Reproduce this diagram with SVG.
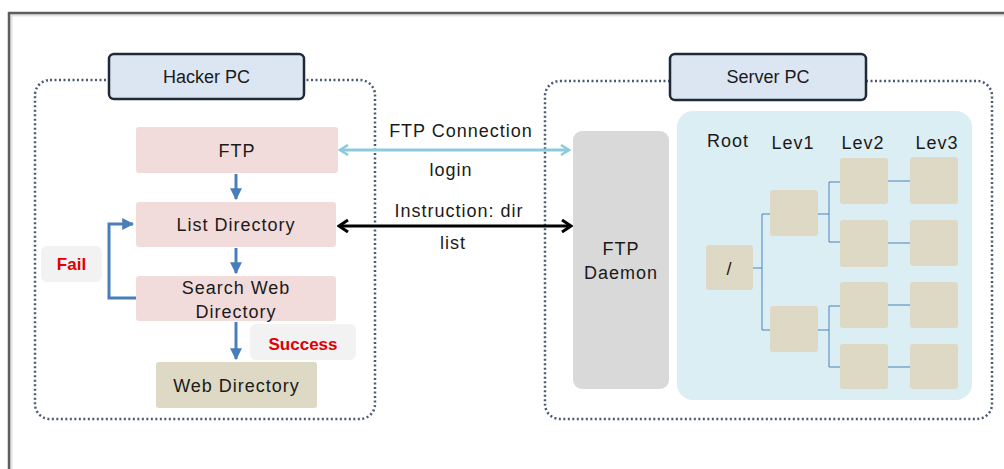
<svg xmlns="http://www.w3.org/2000/svg" width="1004" height="469" viewBox="0 0 1004 469">
<defs>
<style>
text{font-family:"Liberation Sans","Noto Sans",Arial,sans-serif;fill:#1a1a1a;text-anchor:middle}
.t18{font-size:18px;letter-spacing:1px}
.lb{font-size:18px}
.lbl{fill:#dce6f2;stroke:#1f2a38;stroke-width:2.5}
.grp{fill:none;stroke:#4a5a74;stroke-width:2.5;stroke-dasharray:2 2.5}
.pink{fill:#f2dcdb}
.tan{fill:#ddd9c4}
.flow{stroke:#4a7ebb;stroke-width:3;fill:none}
.tree{stroke:#4f81bd;stroke-width:1;fill:none}
.red{fill:#e00000;font-weight:bold;font-size:17px}
</style>
<marker id="blueHead" viewBox="0 0 10 10" refX="9" refY="5" markerWidth="4" markerHeight="4" orient="auto" markerUnits="strokeWidth">
<path d="M0,0 L10,5 L0,10 Z" fill="#4a7ebb"/>
</marker>
<marker id="cyanHead" viewBox="0 0 12 12" refX="10" refY="6" markerWidth="12" markerHeight="12" orient="auto-start-reverse" markerUnits="userSpaceOnUse">
<path d="M2,1 L10,6 L2,11" fill="none" stroke="#8ccbd9" stroke-width="2.5"/>
</marker>
<marker id="blackHead" viewBox="0 0 14 14" refX="12" refY="7" markerWidth="14" markerHeight="14" orient="auto-start-reverse" markerUnits="userSpaceOnUse">
<path d="M3,1 L12,7 L3,13" fill="none" stroke="#000" stroke-width="3"/>
</marker>
</defs>
<rect x="0" y="0" width="1004" height="469" fill="#ffffff"/>
<g id="frame">
<path d="M11,469 V15 H1004" fill="none" stroke="#e2e2e2" stroke-width="3"/>
<path d="M9,469 V13 H1004" fill="none" stroke="#5e5e5e" stroke-width="2.5"/>
</g>
<g id="hacker-group">
<rect class="grp" x="35" y="80" width="340" height="339" rx="15"/>
</g>
<g id="server-group">
<rect class="grp" x="545" y="81" width="447" height="338" rx="15"/>
</g>
<g id="hacker-label">
<rect class="lbl" x="109" y="54" width="195" height="45" rx="5"/>
<text class="lb" x="206.5" y="83">Hacker PC</text>
</g>
<g id="server-label">
<rect class="lbl" x="670" y="54" width="196" height="46" rx="5"/>
<text class="lb" x="768" y="83">Server PC</text>
</g>
<g id="ftp">
<rect class="pink" x="136" y="127" width="202" height="46" rx="3"/>
<text class="t18" x="237" y="157">FTP</text>
</g>
<g id="list-directory">
<rect class="pink" x="136" y="202" width="200" height="45" rx="3"/>
<text class="t18" x="236" y="231">List Directory</text>
</g>
<g id="search-web-directory">
<rect class="pink" x="136" y="276" width="200" height="45" rx="3"/>
<text class="t18" x="236" y="294">Search Web</text>
<text class="t18" x="236" y="318">Directory</text>
</g>
<g id="web-directory">
<rect class="tan" x="156" y="362" width="161" height="46" rx="3"/>
<text class="t18" x="236.5" y="392">Web Directory</text>
</g>
<g id="fail">
<rect x="41" y="246" width="61" height="36" rx="6" fill="#f2f2f2"/>
<text class="red" x="71.5" y="270">Fail</text>
</g>
<g id="success">
<rect x="250" y="324" width="106" height="36" rx="6" fill="#f2f2f2"/>
<text class="red" x="303" y="350">Success</text>
</g>
<g id="ftp-daemon">
<rect x="573" y="131" width="96" height="258" rx="9" fill="#d9d9d9"/>
<text class="t18" x="621" y="255">FTP</text>
<text class="t18" x="621" y="279">Daemon</text>
</g>
<g id="file-tree">
<rect x="677" y="111" width="295" height="289" rx="16" fill="#dbeef4"/>
<text class="t18" x="728" y="147">Root</text>
<text class="t18" x="793" y="149">Lev1</text>
<text class="t18" x="863" y="149">Lev2</text>
<text class="t18" x="937" y="149">Lev3</text>
<rect class="tan" x="706" y="245" width="47" height="45" rx="3"/>
<text class="t18" x="729.5" y="275">/</text>
<rect class="tan" x="770" y="190" width="48" height="46" rx="3"/>
<rect class="tan" x="770" y="306" width="48" height="46" rx="3"/>
<rect class="tan" x="840" y="158" width="48" height="46" rx="3"/>
<rect class="tan" x="840" y="220" width="48" height="47" rx="3"/>
<rect class="tan" x="840" y="282" width="48" height="46" rx="3"/>
<rect class="tan" x="840" y="344" width="48" height="45" rx="3"/>
<rect class="tan" x="910" y="157" width="48" height="47" rx="3"/>
<rect class="tan" x="910" y="220" width="48" height="46" rx="3"/>
<rect class="tan" x="910" y="282" width="48" height="46" rx="3"/>
<rect class="tan" x="910" y="344" width="48" height="45" rx="3"/>
<path class="tree" d="M753,268 H762 M762,214 V330 M762,214 H770 M762,330 H770"/>
<path class="tree" d="M818,214 H829 M829,182 V242 M829,182 H840 M829,242 H840"/>
<path class="tree" d="M818,330 H829 M829,306 V367 M829,306 H840 M829,367 H840"/>
<path class="tree" d="M888,181 H910 M888,243 H910 M888,305 H910 M888,367 H910"/>
</g>
<g id="connectors">
<path class="flow" d="M236,174 V199" marker-end="url(#blueHead)"/>
<path class="flow" d="M236,248 V273" marker-end="url(#blueHead)"/>
<path class="flow" d="M236,322 V359" marker-end="url(#blueHead)"/>
<path class="flow" d="M136,298 H109 V224 H133" marker-end="url(#blueHead)"/>
<path d="M340,150 H569" stroke="#8ccbd9" stroke-width="3" fill="none" marker-start="url(#cyanHead)" marker-end="url(#cyanHead)"/>
<path d="M339,226 H571" stroke="#000" stroke-width="3" fill="none" marker-start="url(#blackHead)" marker-end="url(#blackHead)"/>
<text class="t18" x="461" y="137">FTP Connection</text>
<text class="t18" x="451" y="176">login</text>
<text class="t18" x="459" y="217">Instruction: dir</text>
<text class="t18" x="453" y="249">list</text>
</g>
</svg>
